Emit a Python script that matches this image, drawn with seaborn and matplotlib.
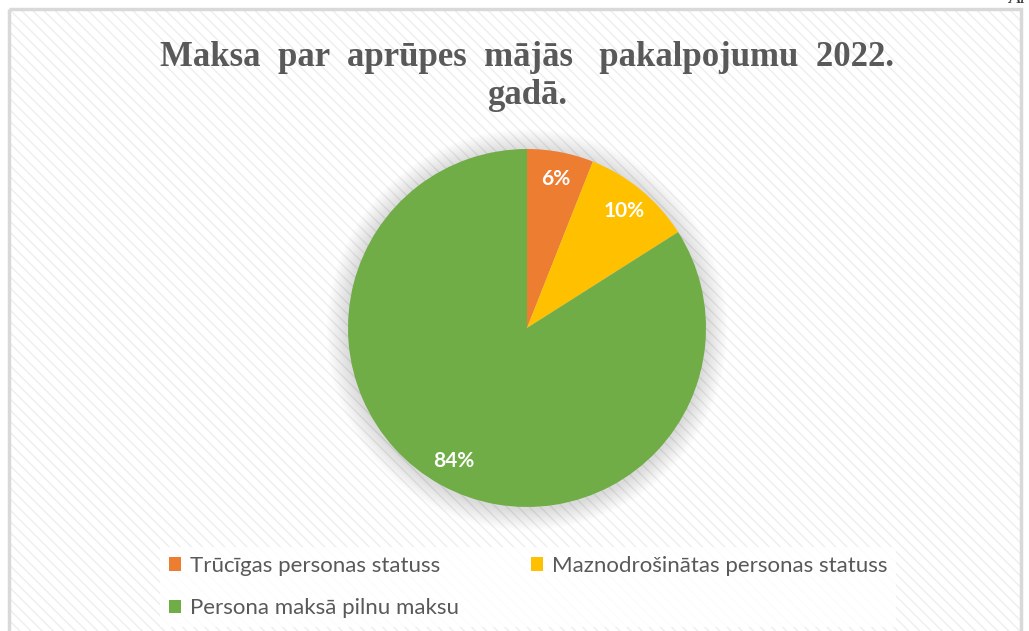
import matplotlib
matplotlib.use("Agg")
import matplotlib.pyplot as plt
import seaborn as sns
from matplotlib.patches import Rectangle, Circle, Patch

# -----------------------------
# Data
# -----------------------------
categories = ["Trūcīgas personas statuss",
              "Maznodrošinātas personas statuss",
              "Persona maksā pilnu maksu"]
shares = [6, 10, 84]
colors = ["#ED7D31", "#FFC000", "#70AD47"]
title = "Maksa  par  aprūpes  mājās   pakalpojumu  2022.\ngadā."

sns.set_theme(style="white")
plt.rcParams["font.family"] = ["Lato", "DejaVu Sans"]

W, H = 1029, 631
fig = plt.figure(figsize=(W / 100, H / 100), dpi=100)

# -----------------------------
# Background (pixel coords)
# -----------------------------
bg = fig.add_axes([0, 0, 1, 1])
bg.set_xlim(0, W)
bg.set_ylim(H, 0)
bg.axis("off")
bg.add_patch(Rectangle((0, 0), W, H, facecolor="white", edgecolor="none"))
bg.add_patch(Rectangle((9, 9), 1012, 640, facecolor="white",
                       edgecolor="#eeeeee", hatch="\\\\\\", linewidth=0))
bg.add_patch(Rectangle((9, 9), 1012, 640, facecolor="none",
                       edgecolor="#d9d9d9", linewidth=2.5))
bg.text(1008, 3, "Ai", fontsize=14, style="italic", color="#333333",
        family="Liberation Serif", va="baseline", ha="left")

bg.text(527, 77, title, ha="center", va="center", fontsize=25,
        fontweight="bold", color="#595959", family="Liberation Serif",
        linespacing=1.2)

# -----------------------------
# Pie
# -----------------------------
cx, cy, R = 527, 328, 179
lim = 1.3
side = 2 * lim * R
ax = fig.add_axes([(cx - side / 2) / W, (H - cy - side / 2) / H, side / W, side / H])
ax.axis("off")

# soft shadow
for i in range(12):
    r = 1.0 + 0.01 * (i + 1)
    ax.add_patch(Circle((0.0, -0.01), r, facecolor="#000000",
                        alpha=0.011, edgecolor="none", zorder=0))

wedges, texts, autotexts = ax.pie(
    shares, colors=colors, startangle=90, counterclock=False,
    autopct="%1.0f%%", pctdistance=0.85, radius=1.0,
    wedgeprops=dict(linewidth=0),
    textprops=dict(color="white", fontsize=15, fontweight="bold"))
ax.set_xlim(-lim, lim)
ax.set_ylim(-lim, lim)

# -----------------------------
# Legend (row-wise order like the original)
# -----------------------------
handles = [Patch(facecolor=c, edgecolor="none") for c in colors]
order = [0, 2, 1]
leg = fig.legend([handles[i] for i in order], [categories[i] for i in order],
                 ncol=2, mode="expand",
                 bbox_to_anchor=(160 / W, 4 / H, 736 / W, 92 / H),
                 loc="lower left", fontsize=16, frameon=True,
                 handlelength=0.55, handleheight=0.55, handletextpad=0.4,
                 labelspacing=1.0, borderaxespad=0, fancybox=False,
                 labelcolor="#595959")
leg.get_frame().set_facecolor("white")
leg.get_frame().set_edgecolor("none")
leg.get_frame().set_alpha(0.85)

fig.savefig("out.png", dpi=100)
